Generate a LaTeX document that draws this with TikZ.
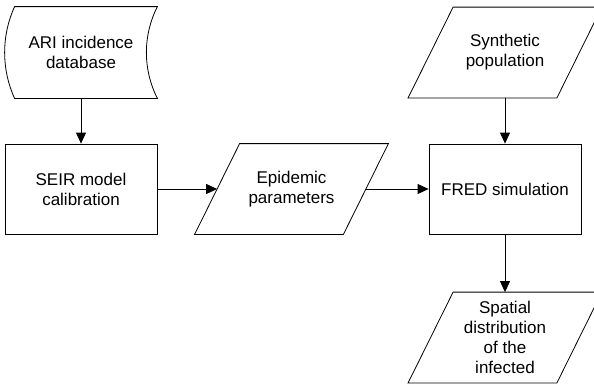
\documentclass[tikz,border=0pt]{standalone}
\usepackage{fontspec}
\setmainfont{Liberation Sans}
\usetikzlibrary{arrows.meta,calc}

\newlength{\du}
\setlength{\du}{1pt}

% slanted outline round a data node
\newcommand\ioframe[1]{\draw ([xshift=-22.5\du]#1.south west)--([xshift=-22.5\du]#1.south east)--([xshift=22.5\du]#1.north east)--([xshift=22.5\du]#1.north west)--cycle;}

\tikzset{
  box/.style={draw, minimum width=152\du, minimum height=90\du, inner sep=0pt, align=center},
  io/.style={minimum width=148\du, minimum height=90\du, inner sep=0pt, align=center},
  flow/.style={-{Triangle[length=11pt,width=10pt]}},
}

\begin{document}
\begin{tikzpicture}[line width=0.8pt, every node/.style={font=\fontsize{17}{20}\selectfont}]
\pgftransformyscale{-1.000000}
\clip (0\du,0\du) rectangle (594\du,383\du);
% stored data
\node[io, minimum width=152\du, minimum height=91\du] (db) at (81\du,52.5\du){ARI incidence\\database};
\draw ([xshift=10\du]db.north west)--(db.north east)
  .. controls ([xshift=-14.7\du]$(db.north east)!0.314!(db.south east)$) and ([xshift=-14.7\du]$(db.south east)!0.314!(db.north east)$) .. (db.south east)
  --([xshift=10\du]db.south west)
  .. controls ([xshift=-3.3\du]$(db.south west)!0.317!(db.north west)$) and ([xshift=-3.3\du]$(db.north west)!0.317!(db.south west)$) .. ([xshift=10\du]db.north west)--cycle;
% processes
\node[box] (seir) at (81\du,189\du){SEIR model\\calibration};
\node[box] (fred) at (505\du,189\du){FRED simulation};
% data
\node[io] (epi) at (291.5\du,189\du){Epidemic\\parameters};
\ioframe{epi}
\node[io] (synth) at (505\du,52.5\du){Synthetic\\population};
\ioframe{synth}
\node[io] (spatial) at (505\du,337.5\du){Spatial\\distribution\\of the\\infected};
\ioframe{spatial}
% flows
\draw[flow] (db)--(seir);
\draw[flow] (seir)--(epi);
\draw[flow] (epi)--(fred);
\draw[flow] (synth)--(fred);
\draw[flow] (fred)--(spatial);
\end{tikzpicture}
\end{document}
